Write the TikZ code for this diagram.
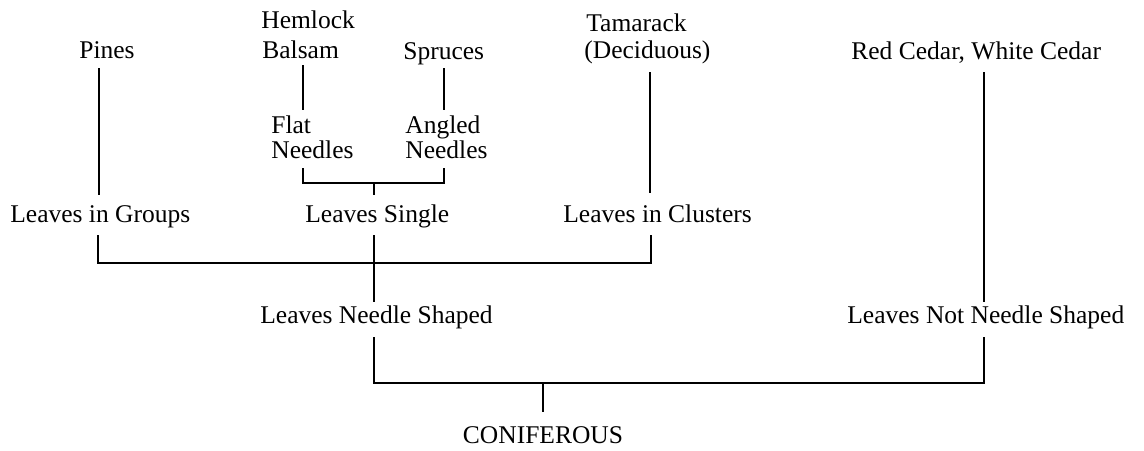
\documentclass[tikz,border=0pt]{standalone}
\usepackage{fontspec}
\setmainfont{Liberation Serif}
\begin{document}
\begin{tikzpicture}[x=0.5pt,y=-0.5pt,
  lbl/.style={inner sep=0pt, anchor=base west, font=\fontsize{12.75}{15}\selectfont},
  conn/.style={line width=0.8pt, line cap=butt}]
\useasboundingbox (0,0) rectangle (1144,450);
% labels
\node[lbl] (hemlock) at (261,28) {Hemlock};
\node[lbl] (balsam) at (262,58) {Balsam};
\node[lbl] (pines) at (79,58) {Pines};
\node[lbl] (spruces) at (403,59) {Spruces};
\node[lbl] (tamarack) at (586,31) {Tamarack};
\node[lbl] (deciduous) at (584,58) {(Deciduous)};
\node[lbl] (redcedar) at (851,59) {Red Cedar, White Cedar};
\node[lbl] (flat) at (271,133) {Flat};
\node[lbl] (flatn) at (271,158) {Needles};
\node[lbl] (angled) at (405,133) {Angled};
\node[lbl] (angledn) at (405,158) {Needles};
\node[lbl] (groups) at (10,222) {Leaves in Groups};
\node[lbl] (single) at (305,222) {Leaves Single};
\node[lbl] (clusters) at (563,222) {Leaves in Clusters};
\node[lbl] (needle) at (260,323) {Leaves Needle Shaped};
\node[lbl] (notneedle) at (847,323) {Leaves Not Needle Shaped};
\node[lbl, anchor=base] (conif) at (543,443) {CONIFEROUS};
% connector end points
\coordinate (pinesT) at (99,68);   \coordinate (pinesB) at (99,195);
\coordinate (balsamT) at (303,65); \coordinate (balsamB) at (303,110);
\coordinate (spruceT) at (444,68); \coordinate (spruceB) at (444,110);
\coordinate (flatT) at (303,168);  \coordinate (angT) at (444,168);
\coordinate (singleJ) at (374,183); \coordinate (singleT) at (374,195);
\coordinate (tamT) at (650,72);    \coordinate (tamB) at (650,193);
\coordinate (groupsB) at (98,235); \coordinate (clustB) at (651,235);
\coordinate (singleB) at (374,235); \coordinate (needleT) at (374,302);
\coordinate (cedarT) at (984,72);  \coordinate (notT) at (984,302);
\coordinate (needleB) at (374,337); \coordinate (notB) at (984,337);
\coordinate (conifJ) at (543,383); \coordinate (conifT) at (543,412);
% connectors
\draw[conn] (pinesT) -- (pinesB);
\draw[conn] (balsamT) -- (balsamB);
\draw[conn] (spruceT) -- (spruceB);
\draw[conn] (flatT) |- (singleJ) -| (angT);
\draw[conn] (singleJ) -- (singleT);
\draw[conn] (tamT) -- (tamB);
\draw[conn] (groupsB) |- (singleB |- 0,263) -| (clustB);
\draw[conn] (singleB) -- (needleT);
\draw[conn] (cedarT) -- (notT);
\draw[conn] (needleB) |- (conifJ) -| (notB);
\draw[conn] (conifJ) -- (conifT);
\end{tikzpicture}
\end{document}
